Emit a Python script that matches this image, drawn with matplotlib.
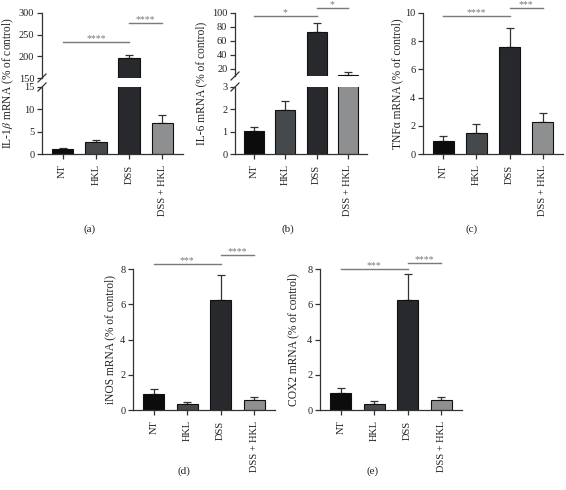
import numpy as np
import matplotlib

matplotlib.use('Agg')
import matplotlib.pyplot as plt

plt.rcParams['font.family'] = ['Liberation Serif', 'DejaVu Serif']
plt.rcParams['mathtext.fontset'] = 'stix'

# data
groups = ['NT', 'HKL', 'DSS', 'DSS + HKL']
il1b = [1.1, 2.7, 197, 7.0]
il1b_err = [0.2, 0.4, 5.5, 1.7]
il6 = [1.02, 1.95, 73, 11]
il6_err = [0.2, 0.44, 13, 5]
tnfa = [0.95, 1.5, 7.6, 2.3]
tnfa_err = [0.35, 0.62, 1.35, 0.62]
inos = [0.93, 0.33, 6.25, 0.57]
inos_err = [0.25, 0.13, 1.4, 0.15]
cox2 = [0.98, 0.35, 6.25, 0.58]
cox2_err = [0.26, 0.14, 1.45, 0.17]

# significance brackets: (from, to, height, stars)
sig_a = [(0, 2, 233, '****'), (2, 3, 277, '****')]
sig_b = [(0, 2, 96, '*'), (2, 3, 107, '*')]
sig_c = [(0, 2, 9.8, '****'), (2, 3, 10.35, '***')]
sig_d = [(0, 2, 8.28, '***'), (2, 3, 8.8, '****')]
sig_e = [(0, 2, 8.0, '***'), (2, 3, 8.34, '****')]

colors = ['#0c0c0c', '#46494c', '#27292c', '#8e8f91']
W, H = 566, 490
fig = plt.figure(figsize=(W / 100, H / 100), dpi=100)
x = np.arange(len(groups))


def px_axes(l, r, t, b):
    return fig.add_axes([l / W, 1 - b / H, (r - l) / W, (b - t) / H])


def style(ax):
    for s in ['top', 'right']:
        ax.spines[s].set_visible(False)
    for s in ['left', 'bottom']:
        ax.spines[s].set_linewidth(0.9)
        ax.spines[s].set_color('#333333')
    ax.tick_params(length=3.5, width=0.9, color='#333333', labelsize=7.5,
                   pad=2, labelcolor='#222222')
    ax.set_xlim(-0.62, 3.62)


def draw_bars(ax, vals, errs):
    ax.bar(x, vals, width=0.64, color=colors, edgecolor='#111111',
           linewidth=0.8, zorder=2)
    ax.errorbar(x, vals, yerr=[np.zeros(len(vals)), errs], fmt='none',
                ecolor='#333333', elinewidth=0.9, capsize=2.6, capthick=0.9,
                zorder=1)


def draw_sig(ax, sigs):
    for i, j, y, lab in sigs:
        ax.plot([i, j], [y, y], color='#7a7a7a', lw=1.0, clip_on=False)
        ax.annotate(lab, ((i + j) / 2, y), xytext=(0, 0.5),
                    textcoords='offset points', ha='center', va='baseline',
                    fontsize=7, color='#7a7a7a', annotation_clip=False)


def set_xlabels(ax):
    ax.set_xticks(x)
    ax.set_xticklabels(groups, rotation=90, va='top', ha='center')
    ax.tick_params(axis='x', pad=4)


def break_marks(up, lo):
    kw = dict(color='#333333', lw=0.9, clip_on=False)
    for ax in (up, lo):
        bb = ax.get_position()
        dx = 4 / (bb.width * W)
        dy = 4 / (bb.height * H)
        yy = 0 if ax is up else 1
        ax.plot([-dx, dx], [yy - dy, yy + dy], transform=ax.transAxes, **kw)


def broken_panel(l, r, up_tb, lo_tb, vals, errs, up_lim, lo_lim,
                 up_ticks, lo_ticks, sigs):
    up = px_axes(l, r, *up_tb)
    lo = px_axes(l, r, *lo_tb)
    for ax in (up, lo):
        style(ax)
        draw_bars(ax, vals, errs)
    up.set_ylim(*up_lim)
    lo.set_ylim(*lo_lim)
    up.set_yticks(up_ticks)
    lo.set_yticks(lo_ticks)
    up.spines['bottom'].set_visible(False)
    up.set_xticks([])
    set_xlabels(lo)
    break_marks(up, lo)
    draw_sig(up, sigs)


def simple_panel(l, r, t, b, vals, errs, ylim, ticks, sigs):
    ax = px_axes(l, r, t, b)
    style(ax)
    draw_bars(ax, vals, errs)
    ax.set_ylim(*ylim)
    ax.set_yticks(ticks)
    set_xlabels(ax)
    draw_sig(ax, sigs)


broken_panel(42, 183, (13, 78), (87, 154), il1b, il1b_err, (150, 300), (0, 15),
             [150, 200, 250, 300], [0, 5, 10, 15], sig_a)
broken_panel(235, 367, (13, 76), (87, 154), il6, il6_err, (10, 100), (0, 3),
             [20, 40, 60, 80, 100], [0, 1, 2, 3], sig_b)
simple_panel(423, 563, 13, 154, tnfa, tnfa_err, (0, 10), [0, 2, 4, 6, 8, 10],
             sig_c)
simple_panel(133, 275, 269, 410, inos, inos_err, (0, 8), [0, 2, 4, 6, 8],
             sig_d)
simple_panel(320, 462, 269, 410, cox2, cox2_err, (0, 8), [0, 2, 4, 6, 8],
             sig_e)

ylabels = [(8, 83.5, r'IL-1$\beta$ mRNA (% of control)'),
           (201, 83.5, 'IL-6 mRNA (% of control)'),
           (397, 83.5, 'TNFα mRNA (% of control)'),
           (110, 339.5, 'iNOS mRNA (% of control)'),
           (293, 339.5, 'COX2 mRNA (% of control)')]
for px, py, lab in ylabels:
    fig.text(px / W, 1 - py / H, lab, rotation=90, ha='center', va='center',
             fontsize=8.3, color='#222222')

captions = [(90, 229, '(a)'), (288, 229, '(b)'), (472, 229, '(c)'),
            (184, 471, '(d)'), (373, 471, '(e)')]
for px, py, lab in captions:
    fig.text(px / W, 1 - py / H, lab, ha='center', va='center', fontsize=8,
             color='#222222')

fig.savefig('out.png', dpi=100)
